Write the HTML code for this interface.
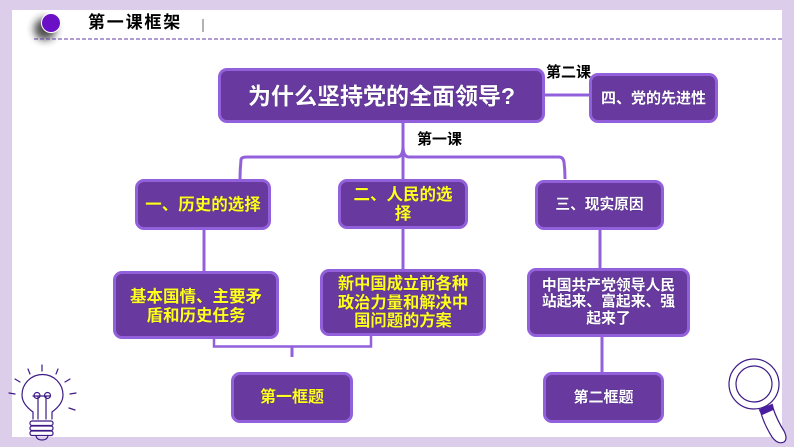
<!DOCTYPE html>
<html><head><meta charset="utf-8">
<style>
html,body{margin:0;padding:0;background:#fff}
#c{position:relative;width:794px;height:447px;overflow:hidden;background:#fff;font-family:"Liberation Sans","Noto Sans CJK SC",sans-serif;font-weight:700}
.b{position:absolute;box-sizing:border-box;border:3px solid #9360dc;border-radius:9px;background:#683a9f;display:flex;align-items:center;justify-content:center;text-align:center;color:#fff;font-size:14.700px;line-height:17px;text-shadow:0 0 1px #3c1d66}
.y{color:#ffff1e}
.t{position:absolute;color:#000;font-size:13px;line-height:16px;white-space:nowrap}
svg{position:absolute;left:0;top:0}
</style></head><body><div id="c">
<svg width="794" height="447" viewBox="0 0 794 447" fill="none">
<defs><filter id="s" x="-100%" y="-100%" width="300%" height="300%"><feGaussianBlur stdDeviation="4"/></filter></defs>
<path d="M12 0H794V447H0V0H12Z M12 10V437H782V10Z" fill="#dccdeb" fill-rule="evenodd"/>
<circle cx="45" cy="29" r="11" fill="#222" opacity=".8" filter="url(#s)"/>
<circle cx="51" cy="23" r="9.500" fill="#6a10c5" stroke="#fff" stroke-width="1"/>
<line x1="34" y1="39" x2="782" y2="39" stroke="#5f3ba5" stroke-width="1" stroke-dasharray="4 2"/>
<line x1="203" y1="19" x2="203" y2="32" stroke="#666" stroke-width="1"/>
<g stroke="#9360dc" stroke-width="3">
<path d="M403 122 V146 Q403 157 397 157 H247 Q241 157 241 160 Q240 170 240 179"/>
<path d="M403 122 V146 Q403 157 409 157 H559 Q563 157 564 162 Q565 170 565 179"/>
<path d="M403 150V179"/>
<path d="M545 95H589"/>
<path d="M204 229V271"/>
<path d="M403 228V269"/>
<path d="M600 229V268"/>
<path d="M602 336V372"/>
<path d="M214 338V346.500H371V336" stroke-width="2.500"/>
<path d="M292 346V357"/>
</g>
<g stroke="#3d1a86" stroke-width="1.200" stroke-linecap="round" stroke-linejoin="round">
<path d="M33 419V412Q22 404 22 395A20 20 0 1 1 63 395Q63 404 52 412V419"/>
<path d="M38 419V396M46 419V396M33 396H50"/>
<circle cx="37" cy="395.500" r="3"/><circle cx="47.500" cy="395.500" r="3"/>
<rect x="30" y="421" width="23" height="4.500" rx="2"/>
<rect x="30" y="426" width="23" height="4.500" rx="2"/>
<rect x="30" y="431" width="23" height="4.500" rx="2"/>
<path d="M36 436Q37 440 42 440Q47 440 48 436"/>
<path d="M42 365V371M28 369L30 374M58 369L56 374M15 379L20 382M70 379L65 382M9 393L15 394M76 393L70 394M69 408L75 410"/>
<circle cx="754" cy="384" r="25"/>
<circle cx="754" cy="384" r="18"/>
<path d="M761 413Q764 424 772 437Q778 445 784 442Q788 439 784 431Q777 420 773 408Z" fill="#fff"/>
</g>
<path d="M760 410L772 405L773 409L762 414Z" fill="#4a1ea0" stroke="#4a1ea0" stroke-width="2"/>
</svg>
<div class="t" style="left:88px;top:13px;font-size:17px;line-height:20px;letter-spacing:1.800px">第一课框架</div>
<div class="b" style="left:218px;top:68px;width:327px;height:55px;font-size:23px;line-height:30px">为什么坚持党的全面领导?</div>
<div class="t" style="left:546px;top:65px;font-size:15px">第二课</div>
<div class="b" style="left:589px;top:73px;width:129px;height:50px;font-size:15px">四、党的先进性</div>
<div class="t" style="left:417px;top:131px;font-size:15px;line-height:18px">第一课</div>
<div class="b y" style="left:135px;top:179px;width:136px;height:51px;font-size:16.500px;padding-top:2px">一、历史的选择</div>
<div class="b y" style="left:338px;top:179px;width:130px;height:50px;font-size:16.500px;line-height:19px;padding:2px 12px 0">二、人民的选择</div>
<div class="b" style="left:535px;top:180px;width:129px;height:50px">三、现实原因</div>
<div class="b y" style="left:113px;top:271px;width:166px;height:68px;font-size:16.500px;line-height:18.500px;padding:3px 12px 0">基本国情、主要矛盾和历史任务</div>
<div class="b y" style="left:320px;top:269px;width:166px;height:67px;font-size:16.300px;line-height:18.500px;padding:1px 12px 0">新中国成立前各种政治力量和解决中国问题的方案</div>
<div class="b" style="left:527px;top:268px;width:163px;height:69px;font-size:14.800px;line-height:16.500px;padding:0 8px">中国共产党领导人民站起来、富起来、强起来了</div>
<div class="b y" style="left:231px;top:372px;width:122px;height:51px;font-size:16px">第一框题</div>
<div class="b" style="left:543px;top:372px;width:121px;height:51px;font-size:15px">第二框题</div>
</div></body></html>
